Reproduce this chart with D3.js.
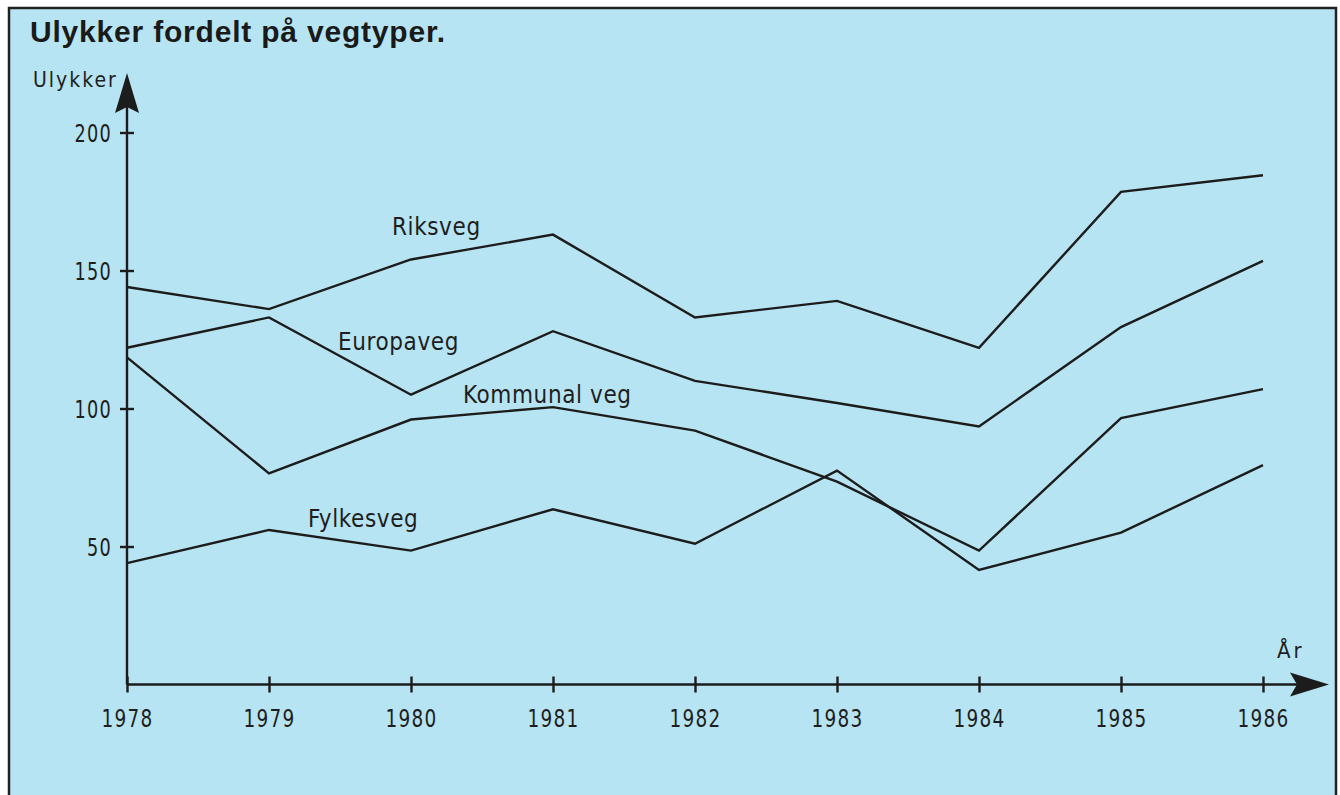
<!DOCTYPE html>
<html>
<head>
<meta charset="utf-8">
<script src="https://cdn.jsdelivr.net/npm/d3@7"></script>
<style>
  html, body { margin: 0; padding: 0; background: #ffffff; }
  svg { display: block; }
  .lbl { font-family: "Liberation Sans Narrow", "DejaVu Sans Condensed", sans-serif; fill: #1e1e1e; }
</style>
</head>
<body>
<svg id="chart" width="1340" height="795"></svg>
<script>
const title = "Ulykker fordelt på vegtyper.";
const yAxisTitle = "Ulykker";
const xAxisTitle = "År";
const years = [1978, 1979, 1980, 1981, 1982, 1983, 1984, 1985, 1986];
const yTicks = [50, 100, 150, 200];
const seriesNames = ["Riksveg", "Europaveg", "Kommunal veg", "Fylkesveg"];
const riksveg   = [144, 136, 154, 163, 133, 139, 122, 178.5, 184.5];
const europaveg = [122, 133, 105, 128, 110, 102, 93.5, 129.5, 153.5];
const kommunal  = [118.5, 76.5, 96, 100.5, 92, 73.5, 48.5, 96.5, 107];
const fylkesveg = [44, 56, 48.5, 63.5, 51, 77.5, 41.5, 55, 79.5];

const series = [riksveg, europaveg, kommunal, fylkesveg];
// label anchor positions expressed in data space (year, value)
const labelPos = [[1979.866, 163], [1979.486, 121.2], [1980.366, 102.1], [1979.275, 57]];

const svg = d3.select("#chart");
const ink = "#1c1c1c";
const sx = 0.82; // horizontal squeeze for the narrow stencil digits

// panel background + frame
svg.append("rect").attr("x", 9).attr("y", 8).attr("width", 1327).attr("height", 800)
  .attr("fill", "#b7e4f2").attr("stroke", "#222").attr("stroke-width", 2.5);

const x = d3.scaleLinear().domain([1978, 1986]).range([127, 1263]);
const y = d3.scaleLinear().domain([0, 200]).range([684.5, 132.5]);

// title
svg.append("text").attr("x", 30).attr("y", 42)
  .attr("font-family", "Liberation Sans, Arial, sans-serif")
  .attr("font-weight", "bold").attr("font-size", 30).attr("letter-spacing", 0.8).attr("fill", "#1a1a1a")
  .text(title);

// lines
const line = d3.line().x((d, i) => x(years[i])).y(d => y(d));
svg.append("g").selectAll("path").data(series).join("path")
  .attr("d", d => line(d))
  .attr("fill", "none").attr("stroke", ink).attr("stroke-width", 2.4)
  .attr("stroke-linejoin", "miter");

// axis lines
const x0 = x(1978), y0 = y(0);
svg.append("line").attr("x1", x0).attr("y1", y0).attr("x2", x0).attr("y2", 100)
  .attr("stroke", ink).attr("stroke-width", 2.4);
svg.append("line").attr("x1", x0).attr("y1", y0).attr("x2", 1300).attr("y2", y0)
  .attr("stroke", ink).attr("stroke-width", 2.4);

// arrow heads
svg.append("path").attr("d", `M${x0},73 L${x0 + 12},113 L${x0},107 L${x0 - 12},113 Z`).attr("fill", ink);
svg.append("path").attr("d", `M1329,${y0} L1290,${y0 - 12} L1297,${y0} L1290,${y0 + 12} Z`).attr("fill", ink);

// y axis ticks
const yAxis = d3.axisLeft(y).tickValues(yTicks).tickSize(7).tickPadding(0);
const gy = svg.append("g").attr("transform", `translate(${x0},0)`).call(yAxis);
gy.select(".domain").remove();
gy.selectAll(".tick line").attr("x1", -7).attr("x2", 7).attr("stroke", ink).attr("stroke-width", 2.4);
gy.selectAll(".tick text").attr("class", "lbl").attr("font-size", 24).attr("letter-spacing", 1.5)
  .attr("fill", ink).attr("dy", "0.36em")
  .attr("x", -15 / sx).attr("transform", `scale(${sx},1)`);

// x axis ticks
const xAxis = d3.axisBottom(x).tickValues(years).tickFormat(d3.format("d")).tickSize(8).tickPadding(28);
const gx = svg.append("g").attr("transform", `translate(0,${y0})`).call(xAxis);
gx.select(".domain").remove();
gx.selectAll(".tick line").attr("y1", -8).attr("y2", 8).attr("stroke", ink).attr("stroke-width", 2.4);
gx.selectAll(".tick text").attr("class", "lbl").attr("font-size", 25).attr("letter-spacing", 1.5)
  .attr("fill", ink).attr("dy", "0.25em").attr("transform", `scale(${sx},1)`);

// axis titles
svg.append("text").attr("class", "lbl").attr("x", 33).attr("y", 87)
  .attr("font-size", 21).attr("letter-spacing", 2).text(yAxisTitle);
svg.append("text").attr("class", "lbl").attr("x", 1277).attr("y", 658)
  .attr("font-size", 22).attr("letter-spacing", 3).text(xAxisTitle);

// series labels
svg.append("g").selectAll("text").data(seriesNames).join("text")
  .attr("class", "lbl")
  .attr("x", (d, i) => x(labelPos[i][0]))
  .attr("y", (d, i) => y(labelPos[i][1]))
  .attr("font-size", 24).attr("letter-spacing", 0.6)
  .text(d => d);
</script>
</body>
</html>
